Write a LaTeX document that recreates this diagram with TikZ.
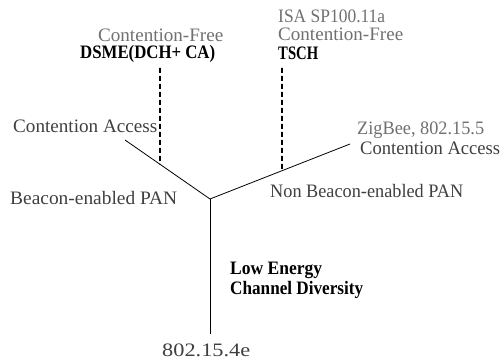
\documentclass[tikz,border=0pt]{standalone}
\usepackage{fontspec}
\setmainfont{Liberation Serif}
\usetikzlibrary{calc}
\newcommand{\fw}[2]{\resizebox{#1pt}{\height}{#2}}
\definecolor{lightg}{HTML}{707070}
\definecolor{darkg}{HTML}{404040}
\tikzset{
  lbl/.style={inner sep=0pt, anchor=base west, font=\fontsize{19}{19}\selectfont},
  lgray/.style={lbl, text=lightg},
  dgray/.style={lbl, text=darkg},
  bk/.style={lbl, text=black, font=\fontsize{19}{19}\selectfont\bfseries},
  branch/.style={draw=black, line width=0.8pt},
  dashbranch/.style={draw=black, line width=1.8pt, dash pattern=on 5pt off 3pt}
}
\begin{document}
\begin{tikzpicture}[x=1pt,y=-1pt]
\useasboundingbox (0,0) rectangle (501,363);
% texts
\node[lgray] (cf1) at (98,42) {\fw{125}{Contention-Free}};
\node[bk] (dsme) at (80,59) {\fw{135}{DSME(DCH+ CA)}};
\node[lgray] (isa) at (278,23) {\fw{107}{ISA SP100.11a}};
\node[lgray] (cf2) at (278,41) {\fw{125}{Contention-Free}};
\node[bk] (tsch) at (278,60) {\fw{40}{TSCH}};
\node[dgray] (ca1) at (13,133) {\fw{144}{Contention Access}};
\node[lgray] (zig) at (357,135) {\fw{127}{ZigBee, 802.15.5}};
\node[dgray] (ca2) at (360,155) {\fw{140}{Contention Access}};
\node[dgray] (bpan) at (10,205) {\fw{167}{Beacon-enabled PAN}};
\node[dgray] (npan) at (270,198) {\fw{193}{Non Beacon-enabled PAN}};
\node[bk] (le) at (230,275) {\fw{92}{Low Energy}};
\node[bk] (chd) at (230,295) {\fw{133}{Channel Diversity}};
\node[dgray] (std) at (162,357) {\fw{88}{802.15.4e}};
% tree
\coordinate (J) at (210,199);
\coordinate (B) at (210,334);
\coordinate (L) at (125,140);
\coordinate (R) at (350,144);
\coordinate (LT) at (160,68);
\coordinate (RT) at (282,68);
\coordinate (LB) at ($(J)!0.588!(L)$);
\coordinate (RB) at ($(J)!0.514!(R)$);
\draw[branch] (B) -- (J);
\draw[branch] (J) -- (L);
\draw[branch] (J) -- (R);
\draw[dashbranch] (LT) -- (LB);
\draw[dashbranch] (RT) -- (RB);
\end{tikzpicture}
\end{document}
